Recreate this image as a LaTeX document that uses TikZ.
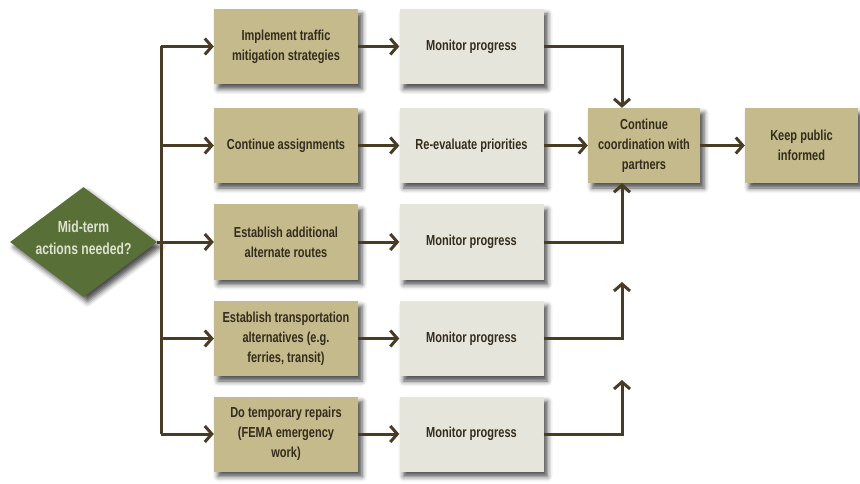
\documentclass[tikz,border=0pt]{standalone}
\usepackage{fontspec}
\setmainfont[FakeStretch=0.76]{Liberation Sans}
\usetikzlibrary{arrows.meta,shapes.geometric,shadows.blur}

\definecolor{tanfill}{RGB}{196,186,140}
\definecolor{greyfill}{RGB}{229,229,219}
\definecolor{greenfill}{RGB}{88,112,56}
\definecolor{linecol}{RGB}{72,60,36}
\definecolor{textcol}{RGB}{52,44,28}
\definecolor{lighttext}{RGB}{222,226,206}

\begin{document}
\begin{tikzpicture}[x=1pt,y=-1pt,
  boxshadow/.style={blur shadow={shadow xshift=4pt,shadow yshift=-5pt,
      shadow blur radius=5pt,shadow opacity=70}},
  basebox/.style={rectangle,minimum width=144pt,minimum height=75pt,
      inner sep=2pt,align=center,text=textcol,
      font=\fontsize{14.5}{20}\bfseries,boxshadow},
  actbox/.style={basebox,fill=tanfill},
  checkbox/.style={basebox,fill=greyfill},
  decision/.style={diamond,fill=greenfill,minimum width=147pt,
      minimum height=110pt,inner sep=0pt,boxshadow},
  decisiontext/.style={align=center,text=lighttext,
      font=\fontsize{16}{22}\bfseries},
  link/.style={draw=linecol,line width=3pt},
  arr/.style={link,-{Straight Barb[length=7pt,width=16pt]}}
]
\useasboundingbox (0,0) rectangle (860,484);

% decision (text as a centred label so the diamond keeps its size)
\node[decision,label={[decisiontext,yshift=4pt]center:Mid-term\\actions needed?}] (d) at (83.5,242) {};

% first column: actions
\node[actbox] (a1) at (286,46.5)  {Implement traffic\\mitigation strategies};
\node[actbox] (a2) at (286,145.5) {Continue assignments};
\node[actbox] (a3) at (286,242)   {Establish additional\\alternate routes};
\node[actbox] (a4) at (286,338.5) {Establish transportation\\alternatives (e.g.\\ferries, transit)};
\node[actbox] (a5) at (286,434)   {Do temporary repairs\\(FEMA emergency\\work)};

% second column: follow-up
\node[checkbox] (b1) at (471.5,46.5)  {Monitor progress};
\node[checkbox] (b2) at (471.5,145.5) {Re-evaluate priorities};
\node[checkbox] (b3) at (471.5,242)   {Monitor progress};
\node[checkbox] (b4) at (471.5,338.5) {Monitor progress};
\node[checkbox] (b5) at (471.5,434)   {Monitor progress};

% coordination and public information
\node[actbox,minimum width=112pt] (c) at (644,145.5) {Continue\\coordination with\\partners};
\node[actbox,minimum width=113pt] (k) at (801.5,145.5) {Keep public\\informed};

% routing columns
\coordinate (trunk) at (161,0);
\coordinate (riser) at (622,0);
\coordinate (up4) at (622,282);
\coordinate (up5) at (622,380);

% branching trunk
\draw[link] (d.east) -- (d.east -| trunk);
\draw[link] (a1.west -| trunk) -- (a5.west -| trunk);
\foreach \i in {1,...,5}{
  \draw[arr] (a\i.west -| trunk) -- (a\i.west);
  \draw[arr] (a\i.east) -- (b\i.west);
}

% merging into coordination
\draw[arr] (b1.east) -| (c.north -| riser);
\draw[arr] (b2.east) -- (c.west);
\draw[arr] (b3.east) -| (c.south -| riser);
\draw[arr] (b4.east) -| (up4);
\draw[arr] (b5.east) -| (up5);
\draw[arr] (c.east) -- (k.west);
\end{tikzpicture}
\end{document}
